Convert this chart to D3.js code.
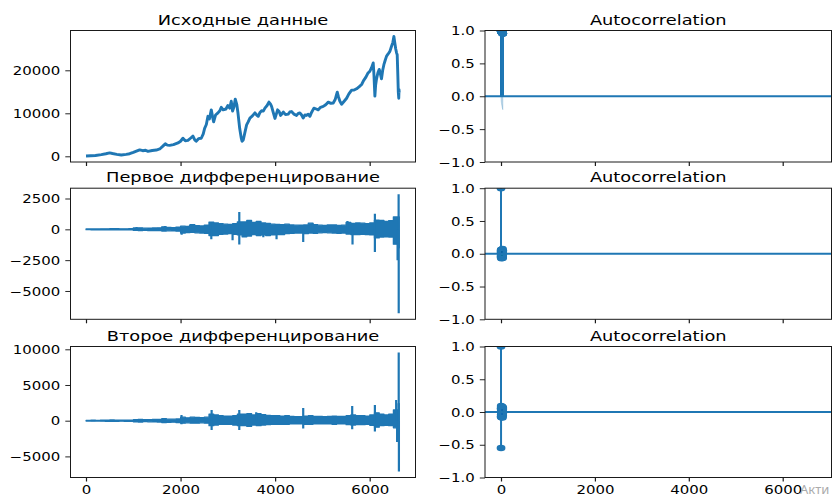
<!DOCTYPE html>
<html><head><meta charset="utf-8">
<script src="https://cdn.jsdelivr.net/npm/d3@7"></script>
<style>html,body{margin:0;padding:0;background:#fff;} svg{display:block;}</style>
</head><body>
<svg id="chart" width="836" height="497"></svg>
<script>
// ---------------- DATA ----------------
const titlesLeft = ["Исходные данные", "Первое дифференцирование", "Второе дифференцирование"];
const titleRight = "Autocorrelation";
const xTicks = [0, 2000, 4000, 6000];
const yTicksRow1 = [0, 10000, 20000];
const yTicksRow2 = [-5000, -2500, 0, 2500];
const yTicksRow3 = [-5000, 0, 5000, 10000];
const acfTicks = [-1.0, -0.5, 0.0, 0.5, 1.0];
const watermark = "Акти";

// original series: [observation index, value]
const originalSeries = [
 [0,64],[100,130],[200,190],[324,400],[420,600],[500,800],[560,650],[650,450],[746,300],[850,450],
 [923,600],[1000,900],[1080,1250],[1135,1500],[1200,1300],[1260,1400],[1310,1150],[1400,1350],[1487,1450],[1560,1700],
 [1620,2300],[1677,2900],[1720,2600],[1770,2550],[1850,2700],[1945,3100],[2000,3500],[2050,4200],[2100,3600],[2156,3700],
 [2210,4200],[2262,4700],[2300,3800],[2330,3500],[2380,4100],[2438,4200],[2480,5200],[2509,6500],[2545,7400],[2579,9300],
 [2610,8700],[2650,10800],[2680,9000],[2700,8000],[2740,9600],[2791,10100],[2830,10600],[2861,11400],[2900,10800],[2960,11000],
 [3000,11800],[3040,11200],[3072,12800],[3100,10500],[3130,11500],[3157,13300],[3190,12000],[3215,10000],[3250,6500],[3284,4200],
 [3300,3500],[3326,3800],[3360,5500],[3397,7300],[3430,8000],[3467,8900],[3520,9400],[3573,10100],[3610,9600],[3643,9300],
 [3680,10200],[3714,10600],[3750,10500],[3784,11200],[3830,11800],[3869,12600],[3900,12200],[3925,11600],[3960,10200],[3996,8800],
 [4025,9800],[4052,10800],[4085,10400],[4116,9500],[4145,9900],[4172,10300],[4220,9700],[4277,9800],[4310,10300],[4347,10400],
 [4400,9800],[4453,9500],[4490,10000],[4523,10100],[4560,9600],[4594,8900],[4630,9600],[4664,9500],[4700,9800],[4735,9300],
 [4770,10200],[4820,11200],[4870,11000],[4912,10800],[4960,11400],[5018,11600],[5070,12000],[5124,12600],[5180,12300],[5229,12400],
 [5270,13200],[5300,14400],[5314,14900],[5340,13800],[5370,12800],[5406,12100],[5460,12800],[5512,13500],[5560,14500],[5618,15400],
 [5670,15400],[5723,15700],[5780,16200],[5829,16700],[5870,17600],[5920,18400],[5960,19300],[6004,19800],[6040,20600],[6075,21700],
 [6090,19000],[6110,14000],[6125,16500],[6145,18000],[6175,19500],[6202,20200],[6230,19000],[6250,18000],[6275,20000],[6300,21300],
 [6330,22400],[6357,23300],[6390,23800],[6427,24400],[6462,25600],[6490,26500],[6512,27865],[6530,26500],[6550,25000],[6570,24000],
 [6582,23600],[6595,19000],[6605,15000],[6615,13500],[6620,15500],[6625,14800]
];

// first / second differences: upper and lower envelope per block of 100 observations
const diffBlock = 100;
const diff1Hi = [30,35,30,40,45,60,50,45,40,55,
 110,120,90,100,110,120,200,150,140,170,
 260,230,370,300,280,330,590,520,460,420,
 400,460,600,600,730,560,650,520,480,420,
 400,380,420,360,340,330,350,500,380,340,
 320,350,360,320,340,560,480,520,500,460,
 520,750,730,650,700,1000,1000];
const diff1Lo = [-30,-35,-40,-35,-40,-50,-45,-40,-50,-45,
 -90,-100,-80,-100,-110,-100,-140,-120,-130,-150,
 -300,-260,-250,-280,-300,-320,-500,-500,-400,-380,
 -350,-400,-450,-600,-550,-420,-500,-450,-500,-450,
 -420,-420,-350,-330,-300,-300,-350,-300,-320,-280,
 -260,-280,-300,-320,-300,-380,-420,-420,-400,-420,
 -450,-700,-620,-600,-620,-1200,-1500];
const diff1Spikes = [[1070,190],[1670,270],[2023,-430],[2200,370],[2640,600],[2650,-810],[3100,-890],[3242,1400],[3242,-1240],
 [3750,-650],[4030,-810],[4594,-1030],[4790,500],[5530,680],[5637,-1240],[6110,1270],[6110,-1840],[6590,-2500],[6612,2853],[6614,-6814]];

const diff2Hi = [50,60,50,70,80,100,80,70,80,90,
 150,180,140,160,170,180,280,220,210,250,
 500,400,500,450,420,500,900,800,700,650,
 650,700,900,900,1000,800,1000,850,750,700,
 700,650,700,600,550,550,650,700,600,600,
 550,600,650,600,600,700,800,700,700,650,
 800,1100,900,800,900,1500,2400];
const diff2Lo = [-50,-60,-50,-70,-80,-100,-80,-70,-80,-90,
 -150,-180,-140,-160,-170,-180,-250,-220,-210,-250,
 -350,-300,-350,-350,-300,-350,-700,-600,-500,-500,
 -500,-600,-700,-700,-800,-600,-700,-600,-550,-500,
 -500,-500,-500,-450,-450,-450,-500,-500,-450,-450,
 -450,-450,-500,-450,-450,-550,-600,-550,-550,-500,
 -650,-900,-700,-650,-700,-1000,-1300];
const diff2Spikes = [[2020,800],[2020,-500],[2657,1500],[2657,-1300],[3242,1500],[3242,-1300],[3600,1200],[4594,1780],[4594,-1100],
 [5630,2060],[5630,-1200],[6110,2200],[6110,-1500],[6560,2900],[6580,-3000],[6614,9558],[6618,-7121]];

// autocorrelation, lags 0..38
const acfOriginal = [1.000,0.999,0.998,0.997,0.996,0.995,0.993,0.992,0.991,0.990,0.989,0.987,0.986,0.985,0.984,0.982,0.981,0.980,0.979,0.977,
 0.976,0.975,0.974,0.972,0.971,0.970,0.969,0.967,0.966,0.965,0.963,0.962,0.961,0.960,0.958,0.957,0.956,0.954,0.953];
const acfDiff1 = [1.000,0.045,-0.032,0.018,-0.055,0.062,-0.041,0.028,-0.068,0.035,0.012,-0.025,0.052,-0.018,0.040,-0.060,0.022,-0.012,0.058,-0.035,
 0.015,0.030,-0.048,0.008,0.044,-0.028,0.020,-0.052,0.038,-0.010,0.026,-0.042,0.070,-0.020,0.010,-0.065,0.032,-0.015,0.048];
const acfDiff2 = [1.000,-0.550,0.055,-0.070,0.090,-0.040,0.030,-0.080,0.060,0.020,-0.050,0.070,-0.030,0.010,0.045,-0.065,0.035,-0.020,0.080,-0.060,
 0.015,0.040,-0.075,0.050,0.005,-0.035,0.065,-0.045,0.025,-0.010,0.055,-0.085,0.075,-0.015,0.020,-0.055,0.040,-0.025,0.060];

// ---------------- DRAWING ----------------
const C0 = "#1f77b4";
const FONT = "DejaVu Sans";
const SX = 1.29;           // horizontal stretch of the picture
const TICK_FS = 11.6, TITLE_FS = 13.8;
const svg = d3.select("#chart");

const colL = [70.5, 415.5], colR = [485, 831.5];
const rows = [[30.5, 162], [188.2, 319.3], [346.5, 477.5]];

const nLast = originalSeries[originalSeries.length - 1][0];
const nobs = nLast + 1;
const xDom = [-0.05 * nLast, 1.05 * nLast];
const xLeft = d3.scaleLinear().domain(xDom).range([70.34, 414.9]);
const xRight = d3.scaleLinear().domain(xDom).range([485.45, 827.6]);

function padDomain(lo, hi) { const p = (hi - lo) * 0.05; return [lo - p, hi + p]; }

function stretchText(sel, size, anchor) {
  sel.attr("text-anchor", anchor).style("font-family", FONT).style("font-size", size + "px").attr("fill", "#000");
}

function title(x0, x1, top, s) {
  svg.append("text")
    .attr("transform", `translate(${(x0 + x1) / 2},${top - 6}) scale(${SX},1)`)
    .call(stretchText, TITLE_FS, "middle").text(s);
}

let clipId = 0;
function makePanel(col, row) {
  const id = "clip" + (clipId++);
  svg.append("clipPath").attr("id", id).append("rect")
    .attr("x", col[0]).attr("y", row[0]).attr("width", col[1] - col[0]).attr("height", row[1] - row[0]);
  return svg.append("g").attr("clip-path", `url(#${id})`);
}

function frame(col, row) {
  svg.append("rect").attr("x", col[0]).attr("y", row[0]).attr("width", col[1] - col[0]).attr("height", row[1] - row[0])
    .attr("fill", "none").attr("stroke", "#1a1a1a").attr("stroke-width", 1);
}

function yAxis(scale, col, ticks, fmt) {
  const g = svg.append("g").attr("transform", `translate(${col[0]},0)`)
    .call(d3.axisLeft(scale).tickValues(ticks).tickFormat(fmt).tickSize(5.2).tickPadding(5));
  g.select(".domain").remove();
  g.selectAll(".tick line").attr("stroke", "#1a1a1a").attr("stroke-width", 0.95);
  g.selectAll(".tick text").attr("x", -10.2 / SX).attr("dy", "0.36em")
    .attr("transform", `scale(${SX},1)`).call(stretchText, TICK_FS, "end");
}

function xAxis(scale, row, showLabels) {
  const g = svg.append("g").attr("transform", `translate(0,${row[1]})`)
    .call(d3.axisBottom(scale).tickValues(xTicks).tickFormat(showLabels ? d3.format("d") : () => "").tickSize(4).tickPadding(4));
  g.select(".domain").remove();
  g.selectAll(".tick line").attr("stroke", "#1a1a1a").attr("stroke-width", 1.2);
  g.selectAll(".tick text").attr("transform", `scale(${SX},1)`).call(stretchText, TICK_FS, "middle");
}

// ---- left column: time series ----
const yOrig = d3.scaleLinear()
  .domain(padDomain(d3.min(originalSeries, d => d[1]), d3.max(originalSeries, d => d[1])))
  .range([rows[0][1], rows[0][0]]);

function diffDomain(hi, lo, spikes) {
  const mx = Math.max(d3.max(hi), d3.max(spikes, d => d[1]));
  const mn = Math.min(d3.min(lo), d3.min(spikes, d => d[1]));
  return padDomain(mn, mx);
}
const yD1 = d3.scaleLinear().domain(diffDomain(diff1Hi, diff1Lo, diff1Spikes)).range([rows[1][1], rows[1][0]]);
const yD2 = d3.scaleLinear().domain(diffDomain(diff2Hi, diff2Lo, diff2Spikes)).range([rows[2][1], rows[2][0]]);

// original
{
  const g = makePanel(colL, rows[0]);
  g.append("path").datum(originalSeries)
    .attr("d", d3.line().x(d => xLeft(d[0])).y(d => yOrig(d[1])))
    .attr("fill", "none").attr("stroke", C0).attr("stroke-width", 2.9).attr("stroke-linejoin", "round");
}

function drawDiff(row, yS, hi, lo, spikes, startIdx) {
  const g = makePanel(colL, row);
  const pts = hi.map((h, k) => ({ x: startIdx + k * diffBlock, hi: h, lo: lo[k] }));
  pts.push({ x: nLast, hi: hi[hi.length - 1], lo: lo[lo.length - 1] });
  g.append("path").datum(pts)
    .attr("d", d3.area().curve(d3.curveStepAfter).x(d => xLeft(d.x)).y0(d => yS(d.lo)).y1(d => yS(d.hi)))
    .attr("fill", C0).attr("stroke", C0).attr("stroke-width", 1.3).attr("stroke-linejoin", "round");
  g.selectAll("line.spike").data(spikes).join("line")
    .attr("x1", d => xLeft(d[0])).attr("x2", d => xLeft(d[0]))
    .attr("y1", yS(0)).attr("y2", d => yS(d[1]))
    .attr("stroke", C0).attr("stroke-width", 2.2);
}
drawDiff(rows[1], yD1, diff1Hi, diff1Lo, diff1Spikes, 1);
drawDiff(rows[2], yD2, diff2Hi, diff2Lo, diff2Spikes, 2);

// ---- right column: ACF ----
function drawAcf(row, acf, n) {
  const y = d3.scaleLinear().domain([-1, 1]).range([row[1], row[0]]);
  const g = makePanel(colR, row);
  const lags = acf.map((v, i) => i);
  g.selectAll("line.stem").data(lags).join("line")
    .attr("x1", l => xRight(l)).attr("x2", l => xRight(l))
    .attr("y1", y(0)).attr("y2", l => y(acf[l]))
    .attr("stroke", C0).attr("stroke-width", 2);
  g.append("line").attr("x1", colR[0]).attr("x2", colR[1]).attr("y1", y(0)).attr("y2", y(0))
    .attr("stroke", C0).attr("stroke-width", 1.8);
  g.selectAll("ellipse").data(lags).join("ellipse")
    .attr("cx", l => xRight(l)).attr("cy", l => y(acf[l]))
    .attr("rx", 4.4).attr("ry", 3.3).attr("fill", C0);
  // Bartlett confidence band (95%)
  let cum = 0;
  const band = [];
  for (let k = 1; k < acf.length; k++) {
    if (k >= 2) cum += acf[k - 1] * acf[k - 1];
    const v = (k === 1 ? 1 : 1 + 2 * cum) / n;
    const w = 1.959964 * Math.sqrt(v);
    let xl = k;
    if (k === 1) xl -= 0.5;
    if (k === acf.length - 1) xl += 0.5;
    band.push({ x: xl, w });
  }
  g.append("path").datum(band)
    .attr("d", d3.area().x(d => xRight(d.x)).y0(d => y(-d.w)).y1(d => y(d.w)))
    .attr("fill", C0).attr("fill-opacity", 0.25).attr("stroke", C0).attr("stroke-opacity", 0.25).attr("stroke-width", 1);
  return y;
}
const acfs = [[acfOriginal, nobs], [acfDiff1, nobs - 1], [acfDiff2, nobs - 2]];
const yAcf = acfs.map((a, i) => drawAcf(rows[i], a[0], a[1]));

// ---- frames, axes, titles ----
const yLeft = [yOrig, yD1, yD2];
const yTicksLeft = [yTicksRow1, yTicksRow2, yTicksRow3];
rows.forEach((row, i) => {
  frame(colL, row);
  frame(colR, row);
  yAxis(yLeft[i], colL, yTicksLeft[i], d3.format("d"));
  yAxis(yAcf[i], colR, acfTicks, d3.format(".1f"));
  xAxis(xLeft, row, i === 2);
  xAxis(xRight, row, i === 2);
  title(colL[0], colL[1], row[0], titlesLeft[i]);
  title(colR[0], colR[1], row[0], titleRight);
});

// watermark overlay seen in the picture
svg.append("text").attr("x", 800).attr("y", 493.5)
  .style("font-family", "Noto Sans").style("font-size", "13px").attr("fill", "#ababab").text(watermark);
</script>
</body></html>
